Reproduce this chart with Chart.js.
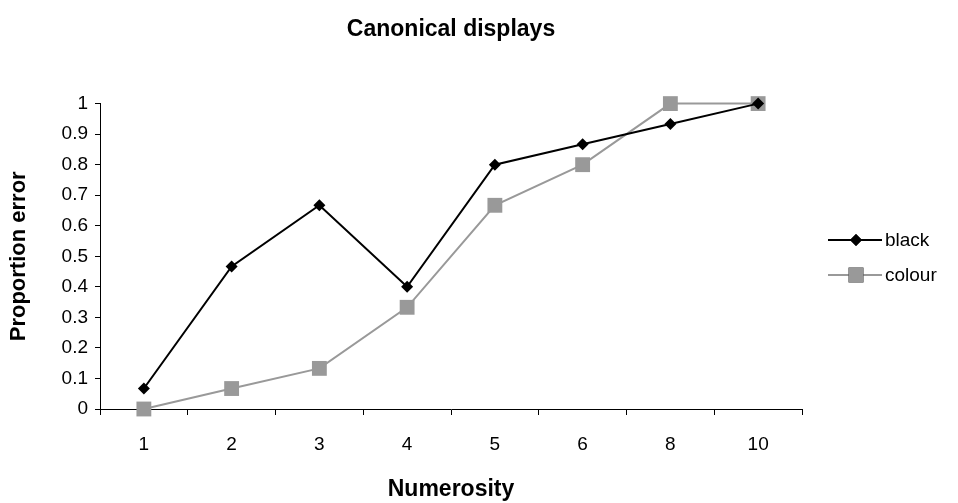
<!DOCTYPE html>
<html>
<head>
<meta charset="utf-8">
<script src="https://cdn.jsdelivr.net/npm/chart.js@4.4.0/dist/chart.umd.min.js"></script>
<style>
  html, body { margin: 0; padding: 0; background: #fff; }
  #wrap { width: 958px; height: 503px; }
</style>
</head>
<body>
<div id="wrap"><canvas id="myChart" width="958" height="503"></canvas></div>
<script>
const numerosity = ['1', '2', '3', '4', '5', '6', '8', '10'];
const blackErr = [0.067, 0.467, 0.667, 0.4, 0.8, 0.867, 0.933, 1];
const colourErr = [0, 0.067, 0.133, 0.333, 0.667, 0.8, 1, 1];

const FONT = 'Liberation Sans, Arial, sans-serif';

// legend drawn by hand: line + marker + label, like the original
const sideLegend = {
  id: 'sideLegend',
  afterDraw(chart) {
    const ctx = chart.ctx;
    const rows = [240, 275];
    chart.data.datasets.forEach(function(ds, i) {
      const y = rows[i];
      ctx.save();
      ctx.strokeStyle = ds.borderColor;
      ctx.lineWidth = ds.borderWidth;
      ctx.beginPath();
      ctx.moveTo(828, y);
      ctx.lineTo(882, y);
      ctx.stroke();
      Chart.helpers.drawPoint(ctx, {
        pointStyle: ds.pointStyle,
        radius: ds.pointRadius,
        borderWidth: 0
      }, 856, y);
      ctx.fillStyle = ds.pointBackgroundColor;
      ctx.fill();
      ctx.fillStyle = '#000';
      ctx.font = '19px ' + FONT;
      ctx.textBaseline = 'middle';
      ctx.fillText(ds.label, 885, y + 1);
      ctx.restore();
    });
  }
};

let ctx = document.getElementById('myChart').getContext('2d');
let chart = new Chart(ctx, {
  type: 'line',
  data: {
    labels: numerosity,
    datasets: [
      {
        label: 'black',
        data: blackErr,
        borderColor: '#000000',
        backgroundColor: '#000000',
        pointBackgroundColor: '#000000',
        pointBorderWidth: 0,
        borderWidth: 2,
        pointStyle: 'rectRot',
        pointRadius: 6,
        tension: 0,
        clip: false
      },
      {
        label: 'colour',
        data: colourErr,
        borderColor: '#999999',
        backgroundColor: '#999999',
        pointBackgroundColor: '#999999',
        pointBorderWidth: 0,
        borderWidth: 2,
        pointStyle: 'rect',
        pointRadius: 10.5,
        tension: 0,
        clip: false
      }
    ]
  },
  options: {
    responsive: false,
    animation: false,
    layout: { padding: { left: 0, right: 156, top: 0, bottom: 0 } },
    plugins: {
      legend: { display: false },
      tooltip: { enabled: false },
      title: {
        display: true,
        text: 'Canonical displays',
        fullSize: false,
        color: '#000',
        font: { family: FONT, size: 23, weight: 'bold' },
        padding: { top: 16, bottom: 60 }
      }
    },
    scales: {
      x: {
        offset: true,
        border: { color: '#000', width: 1 },
        grid: { display: true, drawOnChartArea: false, offset: true, tickLength: 6, color: '#000' },
        ticks: { color: '#000', font: { family: FONT, size: 19 }, padding: 18 },
        title: {
          display: true,
          text: 'Numerosity',
          color: '#000',
          font: { family: FONT, size: 23, weight: 'bold' },
          padding: { top: 10, bottom: 0 }
        },
        afterFit(scale) { scale.height = 94; }
      },
      y: {
        min: 0,
        max: 1,
        border: { color: '#000', width: 1 },
        grid: { display: true, drawOnChartArea: false, tickLength: 5, color: '#000' },
        ticks: {
          stepSize: 0.1,
          color: '#000',
          font: { family: FONT, size: 19 },
          padding: 7,
          callback: function(v) { return String(Math.round(v * 10) / 10); }
        },
        title: {
          display: true,
          text: 'Proportion error',
          color: '#000',
          font: { family: FONT, size: 22, weight: 'bold' },
          padding: { top: 6, bottom: 0 }
        },
        afterFit(scale) { scale.width = 100; }
      }
    }
  },
  plugins: [sideLegend]
});
</script>
</body>
</html>
